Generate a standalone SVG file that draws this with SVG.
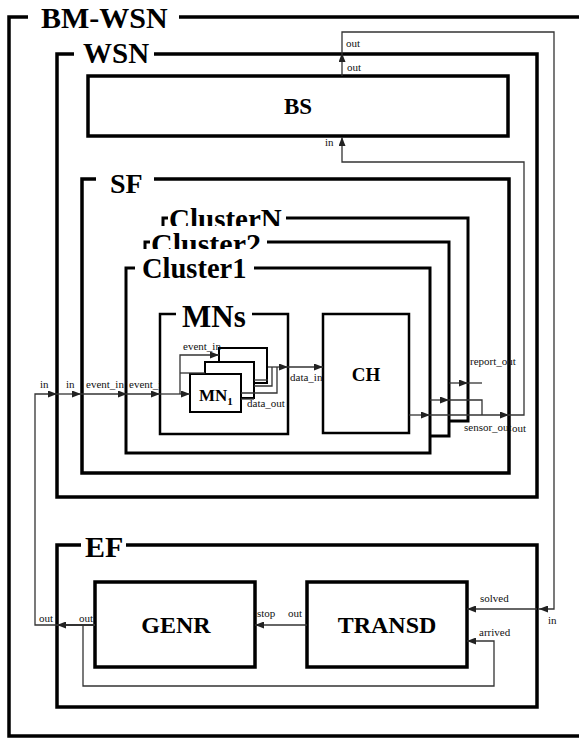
<svg xmlns="http://www.w3.org/2000/svg" width="579" height="740" viewBox="0 0 579 740">
<defs>
<marker id="arr" markerWidth="9" markerHeight="7" refX="9" refY="3.5" orient="auto" markerUnits="userSpaceOnUse"><path d="M0,0 L9,3.5 L0,7 z" fill="#222"/></marker>
<clipPath id="clipEv"><rect x="125" y="370" width="35" height="25"/></clipPath>
<clipPath id="clipN"><rect x="160" y="195" width="140" height="31"/></clipPath>
<clipPath id="clip2"><rect x="140" y="220" width="140" height="29"/></clipPath>
</defs>
<style>
.box{fill:#fff;stroke:#000;stroke-width:3.5}
.cl{fill:#fff;stroke:#000;stroke-width:3}
.md{fill:#fff;stroke:#000;stroke-width:2.5}
.sm{fill:#fff;stroke:#000;stroke-width:2}
.bg{fill:#fff}
.t{font-family:'Liberation Serif','Times New Roman',serif;font-weight:bold;fill:#000}
.lbl{font-family:'Liberation Serif','Times New Roman',serif;font-size:11px;fill:#111}
.c{fill:none;stroke:#333;stroke-width:1.3}
.ca{fill:none;stroke:#333;stroke-width:1.3;marker-end:url(#arr)}
</style>
<rect x="0" y="0" width="579" height="740" fill="#fff"/>

<g id="bm-wsn">
<rect class="box" x="9" y="17" width="600" height="719"/>
<rect class="bg" x="28" y="4" width="151" height="22"/>
<text class="t" x="41" y="28" font-size="30">BM-WSN</text>
</g>

<g id="wsn">
<rect class="box" x="57" y="54" width="480" height="443"/>
<rect class="bg" x="74" y="40" width="80" height="20"/>
<text class="t" x="83" y="63" font-size="29">WSN</text>
</g>

<g id="bs">
<rect class="box" x="88" y="76" width="420" height="60"/>
<text class="t" x="298" y="114" font-size="23" text-anchor="middle">BS</text>
</g>

<g id="sf">
<rect class="box" x="82" y="179" width="427" height="294"/>
<rect class="bg" x="96" y="165" width="58" height="20"/>
<text class="t" x="110" y="193" font-size="28">SF</text>
</g>

<g id="clusterN">
<rect class="cl" x="163" y="218" width="305" height="203"/>
<rect class="bg" x="168" y="203" width="118" height="18"/>
<text class="t" x="169" y="229" font-size="29" clip-path="url(#clipN)">ClusterN</text>
</g>

<g id="cluster2">
<rect class="cl" x="145" y="242" width="304" height="194"/>
<rect class="bg" x="150" y="226" width="117" height="20"/>
<text class="t" x="151" y="254" font-size="30" clip-path="url(#clip2)">Cluster2</text>
</g>

<g id="cluster1">
<rect class="cl" x="126" y="268" width="304" height="185"/>
<rect class="bg" x="135" y="249" width="119" height="24"/>
<text class="t" x="142" y="278" font-size="28.5">Cluster1</text>
</g>

<text class="lbl" x="129" y="388" clip-path="url(#clipEv)">event_in</text>

<g id="mns">
<rect class="md" x="160" y="314" width="128" height="120"/>
<rect class="bg" x="176" y="300" width="76" height="20"/>
<text class="t" x="182" y="327" font-size="31">MNs</text>
</g>

<g id="mn-stack">
<rect class="sm" x="219" y="348" width="48" height="35"/>
<rect class="sm" x="205" y="362" width="49" height="36"/>
</g>

<g id="mn1">
<rect class="sm" x="190" y="374" width="51" height="38"/>
<text class="t" x="199" y="401" font-size="17">MN<tspan font-size="11" dy="4">1</tspan></text>
</g>

<g id="ch">
<rect class="md" x="323" y="314" width="86" height="119"/>
<text class="t" x="366" y="381" font-size="19" text-anchor="middle">CH</text>
</g>

<g id="ef">
<rect class="box" x="57" y="545" width="480" height="162"/>
<rect class="bg" x="81" y="530" width="45" height="22"/>
<text class="t" x="85" y="557" font-size="30">EF</text>
</g>

<g id="genr">
<rect class="box" x="95" y="582" width="160" height="85"/>
<text class="t" x="176" y="633" font-size="24" text-anchor="middle">GENR</text>
</g>

<g id="transd">
<rect class="box" x="307" y="582" width="160" height="85"/>
<text class="t" x="387" y="633" font-size="24" text-anchor="middle">TRANSD</text>
</g>

<g id="connectors">
<path class="ca" d="M342,76 V53"/>
<path class="ca" d="M342,53 V32 H554 V609 H539"/>
<path class="ca" d="M537,609 H467"/>
<path class="ca" d="M409,415 H430"/>
<path class="ca" d="M430,415 H509"/>
<path class="ca" d="M509,415 H524 V162 H342 V137"/>
<path class="ca" d="M430,400 H449"/>
<path class="c" d="M449,400 H482 V415"/>
<path class="ca" d="M449,383 H468"/>
<path class="c" d="M468,383 H482"/>
<path class="ca" d="M268,367 H288"/>
<path class="ca" d="M288,367 H323"/>
<path class="c" d="M254,380 H268"/>
<path class="c" d="M254,386 H272 V367"/>
<path class="c" d="M241,393 H277 V367"/>
<path class="c" d="M241,399 H254"/>
<path class="ca" d="M95,625 H57" style="stroke-width:2.2"/>
<path class="ca" d="M57,625 H35 V394 H57"/>
<path class="ca" d="M57,394 H81"/>
<path class="ca" d="M81,394 H127"/>
<path class="ca" d="M127,394 H160"/>
<path class="ca" d="M160,394 H190"/>
<path class="ca" d="M180,394 V355 H219"/>
<path class="c" d="M180,373 H205"/>
<path class="ca" d="M307,625 H255"/>
<path class="ca" d="M83,625 V686 H494 V641 H467"/>
</g>

<g id="labels">
<text class="lbl" x="346" y="47" font-size="13">out</text>
<text class="lbl" x="347" y="71" font-size="11">out</text>
<text class="lbl" x="325" y="146" font-size="10">in</text>
<text class="lbl" x="470" y="365" font-size="10">report_out</text>
<text class="lbl" x="464" y="431" font-size="9">sensor_out</text>
<text class="lbl" x="512" y="432">out</text>
<text class="lbl" x="40" y="388">in</text>
<text class="lbl" x="66" y="388">in</text>
<text class="lbl" x="86" y="388">event_in</text>
<text class="lbl" x="183" y="350" font-size="9.5">event_in</text>
<text class="lbl" x="247" y="407">data_out</text>
<text class="lbl" x="290" y="381" font-size="10.5">data_in</text>
<text class="lbl" x="257" y="617">stop</text>
<text class="lbl" x="288" y="617">out</text>
<text class="lbl" x="79" y="622">out</text>
<text class="lbl" x="39" y="622">out</text>
<text class="lbl" x="480" y="602" font-size="10">solved</text>
<text class="lbl" x="479" y="636" font-size="10">arrived</text>
<text class="lbl" x="548" y="624" font-size="10">in</text>
</g>
</svg>
